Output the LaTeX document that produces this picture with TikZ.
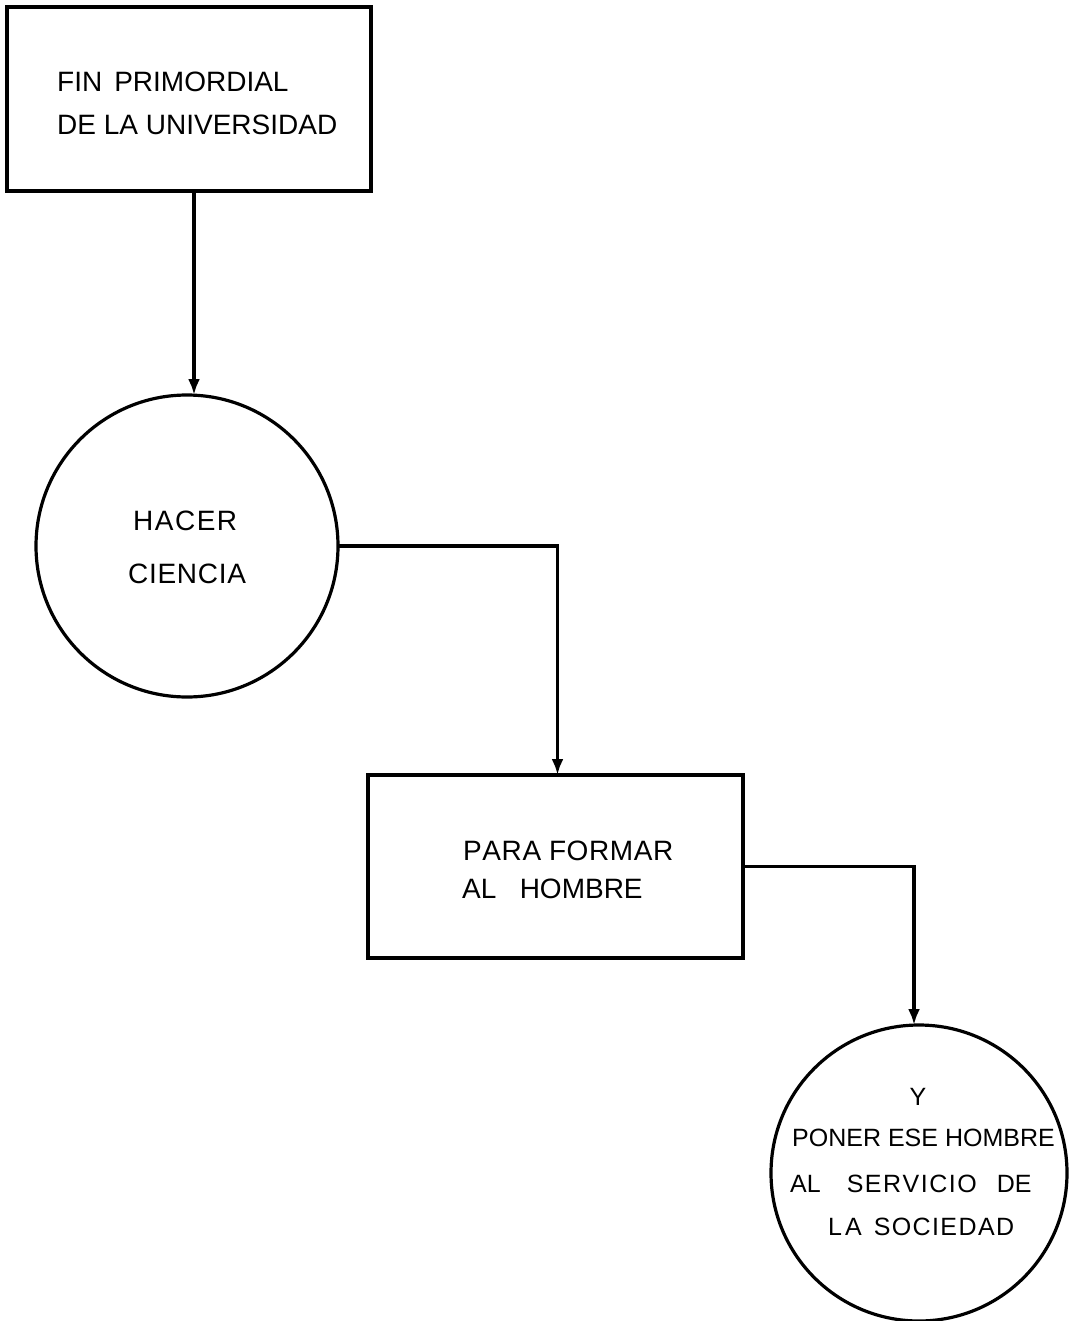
\documentclass[tikz,border=0pt]{standalone}
\usepackage{fontspec}
\setmainfont{Liberation Sans}
\usetikzlibrary{arrows.meta}
\begin{document}
\begin{tikzpicture}[x=1pt,y=-1pt,
  shapeline/.style={draw=black,line width=3.2pt,inner sep=0pt,outer sep=0pt},
  boxshape/.style={shapeline,rectangle},
  circshape/.style={shapeline,circle},
  lbl/.style={inner sep=0pt,font=\fontsize{28}{30}\selectfont},
  slbl/.style={inner sep=0pt,font=\fontsize{25}{27}\selectfont},
  conn/.style={line width=3.2pt,-{Latex[length=16pt,width=12pt]}}]
\useasboundingbox (0,0) rectangle (1072,1321);
\fill[white] (0,0) rectangle (1072,1321);
% shapes
\node[boxshape,minimum width=364pt,minimum height=184pt] (b1) at (189,99) {};
\node[circshape,minimum size=302pt] (c1) at (187,546) {};
\node[boxshape,minimum width=375pt,minimum height=183pt] (b2) at (555.5,866.5) {};
\node[circshape,minimum size=296pt] (c2) at (919,1173) {};
% texts
\node[lbl,anchor=west] (t1a) at (57,82) {FIN\hspace{12pt}PRIMORDIAL};
\node[lbl,anchor=west] (t1b) at (57,125) {DE LA UNIVERSIDAD};
\node[lbl,anchor=west] (t2a) at (133,521) {H\kern1.5pt A\kern1.5pt C\kern1.5pt E\kern1.5pt R};
\node[lbl,anchor=west] (t2b) at (128,574) {C\kern0.7pt I\kern0.7pt E\kern0.7pt N\kern0.7pt C\kern0.7pt I\kern0.7pt A};
\node[lbl,anchor=west] (t3a) at (463,851) {P\kern0.6pt A\kern0.6pt R\kern0.6pt A F\kern0.6pt O\kern0.6pt R\kern0.6pt M\kern0.6pt A\kern0.6pt R};
\node[lbl,anchor=west] (t3b) at (462,889) {AL\ \ \ HOMBRE};
\node[slbl] (t4a) at (918,1097) {Y};
\node[slbl,anchor=west] (t4b) at (792,1138) {PONER ESE HOMBRE};
\node[slbl,anchor=west] (t4c) at (790,1184) {AL\hspace{26pt}S\kern1.5pt E\kern1.5pt R\kern1.5pt V\kern1.5pt I\kern1.5pt C\kern1.5pt I\kern1.5pt O\hspace{20pt}DE};
\node[slbl,anchor=west] (t4d) at (828,1227) {L\kern3pt A\hspace{12pt}S\kern1.4pt O\kern1.4pt C\kern1.4pt I\kern1.4pt E\kern1.4pt D\kern1.4pt A\kern1.4pt D};
% connectors
\draw[conn] ([xshift=5pt]b1.south) -- ([xshift=7pt]c1.north);
\draw[conn] (c1.east) -| ([xshift=2pt]b2.north);
\draw[conn] (b2.east) -| ([xshift=-5pt]c2.north);
\end{tikzpicture}
\end{document}
